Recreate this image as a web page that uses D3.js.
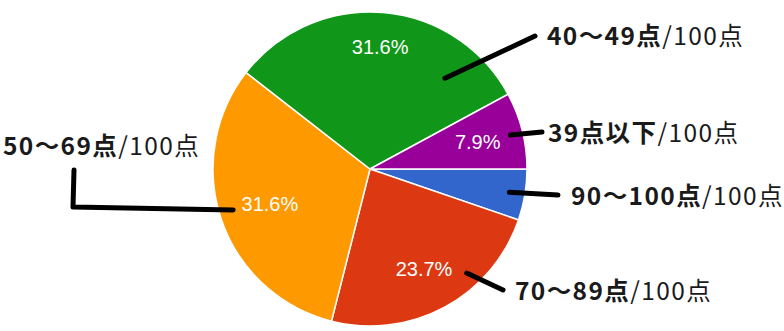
<!DOCTYPE html>
<meta charset="utf-8">
<style>
body { margin: 0; background: #fff; }
.pct { font-family: "Liberation Sans", Arial, sans-serif; font-size: 20px; fill: #fff; }
.callout-text { font-family: "Noto Sans CJK JP", sans-serif; font-size: 24.5px; letter-spacing: 1.4px; fill: #1a1a1a; }
.callout-text .cat { font-weight: bold; }
.leader { fill: none; stroke: #000; stroke-width: 5px; stroke-linecap: round; stroke-linejoin: round; }
</style>
<svg width="784" height="331"></svg>
<script src="https://d3js.org/d3.v7.min.js"></script>
<script>
// data, in drawing order (clockwise from 3 o'clock)
var categories = ["90〜100点", "70〜89点", "50〜69点", "40〜49点", "39点以下"];
var counts = [2, 9, 12, 12, 3];
var colors = ["#3366cc", "#dc3912", "#ff9900", "#109618", "#990099"];
var suffix = "/100点";

// callout layout: where the leader starts inside the slice (fraction of slice, fraction of radius),
// the leader's outer end points, and the text anchor
var callouts = [
  { t: 0.5,  rf: 0.90, pts: [[558, 195]],             tx: 571, ty: 205 },
  { t: 0.33, rf: 0.905, pts: [[503, 290]],            tx: 515, ty: 300 },
  { t: 0.52, rf: 0.91, pts: [[73, 207], [74, 170]],   tx: 3,   ty: 155 },
  { t: 0.806, rf: 0.75, pts: [[535, 36]],             tx: 547, ty: 45 },
  { t: 0.52, rf: 0.92, pts: [[542, 132]],             tx: 548, ty: 142 }
];

var svg = d3.select("svg"),
    cx = 370, cy = 169, radius = 157,
    g = svg.append("g").attr("transform", "translate(" + cx + "," + cy + ")");

var pie = d3.pie().sort(null).startAngle(Math.PI / 2).endAngle(Math.PI / 2 + 2 * Math.PI);
var arcs = pie(counts);
var total = d3.sum(counts);

var arc = d3.arc().innerRadius(0).outerRadius(radius);

g.selectAll("path.slice")
    .data(arcs)
  .enter().append("path")
    .attr("class", "slice")
    .attr("d", arc)
    .attr("fill", function(d, i) { return colors[i]; })
    .attr("stroke", "#fff")
    .attr("stroke-width", 1.5);

// percentage labels: box centre along the mid angle, farthest corner at 0.86r
var labelR = radius * 0.86;
g.selectAll("text.pct")
    .data(arcs)
  .enter().append("text")
    .attr("class", "pct")
    .attr("text-anchor", "middle")
    .text(function(d) { return (d.value / total * 100).toFixed(1) + "%"; })
    .each(function(d) {
      var el = d3.select(this);
      if (d.value / total < 0.06) { el.remove(); return; }
      var w = this.getComputedTextLength() / 2, h = 20 * 0.72 / 2;
      var a = (d.startAngle + d.endAngle) / 2;
      var sx = Math.sin(a), sy = -Math.cos(a);
      var px = Math.sign(sx) * w, py = Math.sign(sy) * h;
      // solve |t*s + p| = labelR
      var b = 2 * (sx * px + sy * py), c = px * px + py * py - labelR * labelR;
      var t = (-b + Math.sqrt(b * b - 4 * c)) / 2;
      el.attr("x", t * sx).attr("y", t * sy + h);
    });

// leaders and callout text
var line = d3.line();
arcs.forEach(function(d, i) {
  var c = callouts[i];
  var a = d.startAngle + (d.endAngle - d.startAngle) * c.t;
  var start = [cx + Math.sin(a) * radius * c.rf, cy - Math.cos(a) * radius * c.rf];
  svg.append("path")
      .attr("class", "leader")
      .attr("d", line([start].concat(c.pts)));

  var txt = svg.append("text")
      .attr("class", "callout-text")
      .attr("x", c.tx)
      .attr("y", c.ty);
  txt.append("tspan").attr("class", "cat").text(categories[i]);
  txt.append("tspan").text(suffix);
});
</script>
